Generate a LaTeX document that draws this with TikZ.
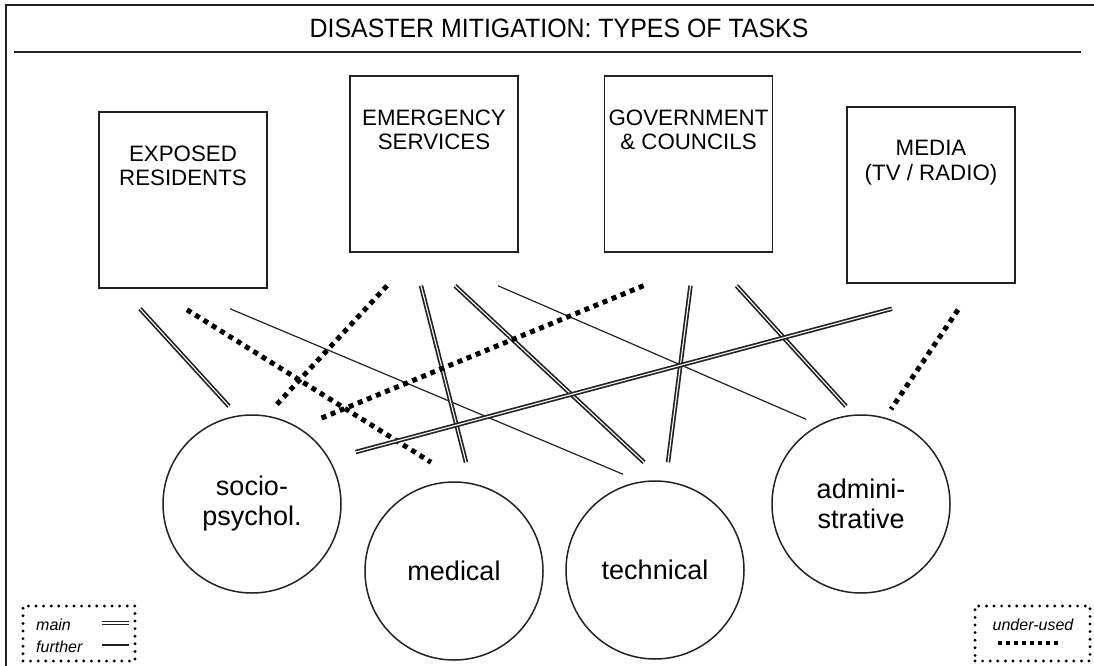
\documentclass[tikz,border=0pt]{standalone}
\usepackage{fontspec}
\setmainfont{Liberation Sans}
\newfontfamily\titlefont[FakeStretch=0.94]{Liberation Sans}
\usetikzlibrary{calc}
\definecolor{ink}{HTML}{222222}

\begin{document}
\begin{tikzpicture}[
    x=1pt, y=-1pt,
    box/.style={rectangle, draw=ink, line width=1.5pt, minimum width=168, minimum height=176, inner sep=0pt},
    boxtext/.style={anchor=north, yshift=-34, inner sep=0pt, align=center, text=black, font=\fontsize{22.3}{24.5}\selectfont},
    task/.style={circle, draw=ink, line width=1.5pt, minimum size=178, inner sep=0pt, align=center, text=black, font=\fontsize{27}{30}\selectfont},
    main/.style={draw=ink, double=white, line width=1.7pt, double distance=1.1pt},
    further/.style={draw=ink, line width=1.2pt},
    underused/.style={draw=black, line width=5pt, dash pattern=on 5pt off 4.8pt},
    legbox/.style={rectangle, draw=black, line width=3.2pt, dash pattern=on 0pt off 7.6pt, line cap=round, minimum width=112, minimum height=55},
    legtext/.style={inner sep=0pt, text=black, font=\fontsize{16}{18}\selectfont\itshape}
]
\useasboundingbox (0,0) rectangle (1094,666);

% Frame and title
\draw[ink, line width=2pt] (6,666) -- (6,5) -- (1094,5);
\node[text=black, font=\titlefont\fontsize{26.5}{30}\selectfont] (title) at (559,28) {DISASTER MITIGATION: TYPES OF TASKS};
\draw[ink, line width=2.2pt] (14,52) -- (1081,52);

% Actors
\node[box, label={[boxtext]north:{EXPOSED\\RESIDENTS}}] (exp) at (183,200) {};
\node[box, label={[boxtext]north:{EMERGENCY\\SERVICES}}] (emg) at (434,164) {};
\node[box, label={[boxtext]north:{GOVERNMENT\\\& COUNCILS}}] (gov) at (688.5,164) {};
\node[box, label={[boxtext]north:{MEDIA\\(TV / RADIO)}}] (media) at (931,195) {};

% Tasks
\node[task] (soc) at (252,504) {socio-\\psychol.};
\node[task] (medc) at (454,571) {medical};
\node[task] (tech) at (655,570) {technical};
\node[task] (adm) at (861,504) {admini-\\strative};

% Links
\draw[main] ($(exp.south)+(-43,20)$) -- ($(soc.north)+(-23,-8)$);
\draw[underused] ($(exp.south)+(4,21)$) -- ($(medc.north)+(-23,-19)$);
\draw[further] ($(exp.south)+(47,20)$) -- ($(tech.north)+(-32,-6)$);
\draw[underused] ($(emg.south)+(-47,33)$) -- ($(soc.north)+(25,-10)$);
\draw[main] ($(emg.south)+(-13,33)$) -- ($(medc.north)+(12,-19)$);
\draw[main] ($(emg.south)+(21,33)$) -- ($(tech.north)+(-11,-18)$);
\draw[further] ($(emg.south)+(64,33)$) -- ($(adm.north)+(-55,5)$);
\draw[underused] ($(gov.south)+(-45,33)$) -- ($(soc.north)+(69,4)$);
\draw[main] ($(gov.south)+(2,33)$) -- ($(tech.north)+(13,-18)$);
\draw[main] ($(gov.south)+(48,33)$) -- ($(adm.north)+(-15,-8)$);
\draw[main] ($(media.south)+(-39,25)$) -- ($(soc.east)+(14,-52)$);
\draw[underused] ($(media.south)+(27,26)$) -- ($(adm.north)+(30,-5)$);

% Legend
\node[legbox] (legmain) at (79,633.5) {};
\node[legtext, anchor=west] (lmain) at (36,625) {main};
\node[legtext, anchor=west] (lfurther) at (36,647) {further};
\draw[main] ($(legmain.east)+(-35,-10.5)$) -- ++(27,0);
\draw[further] ($(legmain.east)+(-35,11.5)$) -- ++(27,0);
\node[legbox, minimum width=115] (legunder) at (1032.5,633.5) {};
\node[legtext] (lunder) at (1033,625) {under-used};
\draw[underused, line width=4pt, dash pattern=on 4pt off 4pt] ($(legunder.center)+(-34.5,9.5)$) -- ++(64,0);

\end{tikzpicture}
\end{document}
